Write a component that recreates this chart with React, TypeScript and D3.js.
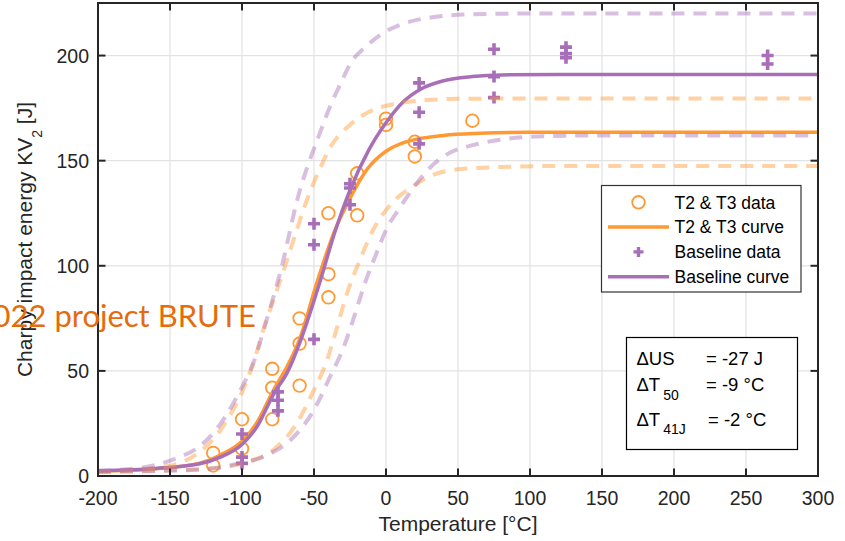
import React, { useRef, useEffect } from 'react'
import * as d3 from 'd3'

const xTicks = [-200, -150, -100, -50, 0, 50, 100, 150, 200, 250, 300]
const yTicks = [0, 50, 100, 150, 200]

// T2 & T3 measured points
const t23Temps = [-120, -120, -100, -100, -79, -79, -79, -60, -60, -60, -40, -40, -40, -20, -20, 0, 0, 20, 20, 60]
const t23Energy = [11, 5, 27, 13, 51, 42, 27, 75, 63, 43, 125, 96, 85, 144, 124, 170, 167, 159, 152, 169]

// Baseline measured points
const baseTemps = [-100, -100, -100, -75, -75, -75, -50, -50, -50, -25, -25, -25, 23, 23, 23, 75, 75, 75, 125, 125, 125, 265, 265]
const baseEnergy = [20, 9, 6, 40, 36, 31, 120, 110, 65, 139, 137, 129, 187, 173, 158, 203, 190, 180, 204, 201, 199, 200, 196]

// fitted curves as [T, KV]
const t23Curve = [[-200, 2.3], [-160, 3.5], [-130, 6], [-115, 10], [-100, 16.5], [-90, 25], [-78, 41], [-68, 53], [-60, 65], [-48, 92], [-36, 116], [-25, 132], [-13, 146], [0, 154.5], [10, 158], [20, 160], [40, 162], [65, 163], [100, 163.5], [300, 163.5]]
const t23Upper = [[-200, 2], [-161, 3.8], [-143, 6.2], [-129, 11.7], [-117, 20], [-110, 27], [-98, 43], [-92, 54], [-85, 70], [-78, 84], [-70, 100], [-62, 117], [-54, 133], [-46, 146], [-39, 156], [-25, 167], [-11, 173.5], [6, 177], [24, 178.6], [50, 179.4], [100, 179.6], [300, 179.6]]
const t23Lower = [[-200, 2], [-117, 3.8], [-99, 6.2], [-78, 12.5], [-62, 25], [-50, 41], [-41, 55], [-36, 66], [-27, 87], [-18, 103], [-9, 117], [3, 129], [19, 138], [30, 142.5], [47, 145.6], [80, 147], [120, 147.5], [300, 147.5]]

const baseCurve = [[-200, 2.5], [-160, 3.6], [-130, 5.7], [-115, 9], [-100, 15], [-90, 23], [-78, 39], [-68, 50], [-59, 65], [-46, 92], [-36, 115], [-25, 136], [-12, 155], [0, 168], [12, 178], [24, 184], [40, 188], [60, 190], [80, 190.8], [120, 191], [300, 191]]
const baseUpper = [[-200, 2.5], [-175, 3.5], [-164, 4.6], [-145, 8.6], [-131, 13.3], [-118, 22], [-101, 41], [-92, 54], [-83, 74], [-73, 98], [-61, 133], [-46, 163], [-39, 175.5], [-32, 186], [-24, 197], [-14, 204.3], [-2, 210.7], [13, 215.4], [30, 218], [60, 219.6], [100, 220], [300, 220]]
const baseLower = [[-200, 2], [-130, 3], [-106, 5.4], [-85, 9.3], [-66, 17.3], [-50, 31.5], [-39, 47], [-29, 62], [-22, 76], [-15, 91], [-6, 107], [0, 117], [10, 128], [20, 138], [31, 147], [45, 154], [61, 157.5], [80, 160], [105, 161.5], [150, 162], [300, 162]]

const legendLabels = ['T2 & T3 data', 'T2 & T3 curve', 'Baseline data', 'Baseline curve']

const ORANGE = '#FF9933'
const PURPLE = '#A86FB8'
const AXIS = '#262626'
const FONT = '"Liberation Sans", Arial, Helvetica, sans-serif'

const App = () => {
  const visEl = useRef<HTMLDivElement>(null)
  const width = 845
  const height = 541

  useEffect(() => {
    const root = d3.select(visEl.current)
    root.selectAll('*').remove()
    const svg = root.append('svg')
      .attr('width', width)
      .attr('height', height)
      .style('position', 'absolute')
      .style('left', 0)
      .style('top', 0)
      .style('font-family', FONT)

    const margin = { top: 3, right: 27, bottom: 65, left: 98 }
    const innerWidth = width - margin.left - margin.right
    const innerHeight = height - margin.top - margin.bottom

    const xScale = d3.scaleLinear().domain([-200, 300]).range([0, innerWidth])
    const yScale = d3.scaleLinear().domain([0, 225]).range([innerHeight, 0])

    svg.append('rect').attr('width', width).attr('height', height).attr('fill', '#fff')

    const g = svg.append('g').attr('transform', `translate(${margin.left},${margin.top})`)

    // grid
    g.selectAll('.gx').data(xTicks.slice(1, -1)).enter().append('line')
      .attr('x1', d => xScale(d)).attr('x2', d => xScale(d))
      .attr('y1', 0).attr('y2', innerHeight)
      .attr('stroke', '#e2e2e2').attr('stroke-width', 1.2)
    g.selectAll('.gy').data(yTicks.slice(1)).enter().append('line')
      .attr('y1', d => yScale(d)).attr('y2', d => yScale(d))
      .attr('x1', 0).attr('x2', innerWidth)
      .attr('stroke', '#e2e2e2').attr('stroke-width', 1.2)

    const line = d3.line<number[]>()
      .x(d => xScale(d[0]))
      .y(d => yScale(d[1]))
      .curve(d3.curveMonotoneX)

    const plot = g.append('g')

    // T2 & T3 data
    plot.selectAll('.c').data(t23Temps).enter().append('circle')
      .attr('cx', d => xScale(d))
      .attr('cy', (d, i) => yScale(t23Energy[i]))
      .attr('r', 6.3)
      .attr('fill', 'none')
      .attr('stroke', ORANGE)
      .attr('stroke-width', 1.8)

    plot.append('path').attr('d', line(t23Curve as any))
      .attr('fill', 'none').attr('stroke', ORANGE).attr('stroke-width', 3.5)

    const plus = 'M-6,0H6M0,-6V6'
    plot.selectAll('.p').data(baseTemps).enter().append('path')
      .attr('d', plus)
      .attr('transform', (d, i) => `translate(${xScale(d)},${yScale(baseEnergy[i])})`)
      .attr('stroke', PURPLE)
      .attr('stroke-width', 3.6)
      .attr('fill', 'none')

    plot.append('path').attr('d', line(baseCurve as any))
      .attr('fill', 'none').attr('stroke', PURPLE).attr('stroke-width', 3.5)

    const dashed = [
      { d: t23Upper, c: ORANGE },
      { d: t23Lower, c: ORANGE },
      { d: baseUpper, c: PURPLE },
      { d: baseLower, c: PURPLE },
    ]
    dashed.forEach(s => {
      plot.append('path').attr('d', line(s.d as any))
        .attr('fill', 'none')
        .attr('stroke', s.c)
        .attr('stroke-opacity', 0.45)
        .attr('stroke-width', 4)
        .attr('stroke-dasharray', '13,9')
    })

    // axes box and ticks (inside, all four sides)
    g.append('rect').attr('width', innerWidth).attr('height', innerHeight)
      .attr('fill', 'none').attr('stroke', AXIS).attr('stroke-width', 2)

    const tl = 7.5
    xTicks.slice(1, -1).forEach(t => {
      g.append('line').attr('x1', xScale(t)).attr('x2', xScale(t))
        .attr('y1', innerHeight).attr('y2', innerHeight - tl).attr('stroke', AXIS).attr('stroke-width', 2)
      g.append('line').attr('x1', xScale(t)).attr('x2', xScale(t))
        .attr('y1', 0).attr('y2', tl).attr('stroke', AXIS).attr('stroke-width', 2)
    })
    yTicks.slice(1).forEach(t => {
      g.append('line').attr('y1', yScale(t)).attr('y2', yScale(t))
        .attr('x1', 0).attr('x2', tl).attr('stroke', AXIS).attr('stroke-width', 2)
      g.append('line').attr('y1', yScale(t)).attr('y2', yScale(t))
        .attr('x1', innerWidth).attr('x2', innerWidth - tl).attr('stroke', AXIS).attr('stroke-width', 2)
    })

    g.selectAll('.xl').data(xTicks).enter().append('text')
      .attr('x', d => xScale(d))
      .attr('y', innerHeight + 29)
      .attr('text-anchor', 'middle')
      .attr('font-size', 19.5)
      .attr('fill', AXIS)
      .text(d => String(d))

    g.selectAll('.yl').data(yTicks).enter().append('text')
      .attr('x', -9)
      .attr('y', d => yScale(d) + 7)
      .attr('text-anchor', 'end')
      .attr('font-size', 19.5)
      .attr('fill', AXIS)
      .text(d => String(d))

    g.append('text')
      .attr('x', innerWidth / 2)
      .attr('y', innerHeight + 55)
      .attr('text-anchor', 'middle')
      .attr('font-size', 21)
      .attr('fill', AXIS)
      .text('Temperature [°C]')

    const yl = svg.append('text')
      .attr('transform', `translate(32,${margin.top + innerHeight / 2}) rotate(-90)`)
      .attr('text-anchor', 'middle')
      .attr('font-size', 21)
      .attr('fill', AXIS)
    yl.append('tspan').text('Charpy impact energy KV')
    yl.append('tspan').attr('font-size', 14).attr('dy', 10).text('2')
    yl.append('tspan').attr('dy', -10).text(' [J]')

    // legend
    const lg = svg.append('g')
    lg.append('rect').attr('x', 601.5).attr('y', 185.5).attr('width', 199.5).attr('height', 106.5)
      .attr('fill', '#fff').attr('stroke', '#333').attr('stroke-width', 1.2)
    const rowY = (i: number) => 202.3 + i * 24.8
    lg.append('circle').attr('cx', 638.5).attr('cy', rowY(0)).attr('r', 6.3)
      .attr('fill', 'none').attr('stroke', ORANGE).attr('stroke-width', 1.8)
    lg.append('line').attr('x1', 608).attr('x2', 669).attr('y1', rowY(1)).attr('y2', rowY(1))
      .attr('stroke', ORANGE).attr('stroke-width', 3.5)
    lg.append('path').attr('d', 'M-5,0H5M0,-5V5').attr('transform', `translate(638.5,${rowY(2)})`)
      .attr('stroke', PURPLE).attr('stroke-width', 3.4)
    lg.append('line').attr('x1', 608).attr('x2', 669).attr('y1', rowY(3)).attr('y2', rowY(3))
      .attr('stroke', PURPLE).attr('stroke-width', 3.5)
    legendLabels.forEach((t, i) => {
      lg.append('text').attr('x', 674.5).attr('y', rowY(i) + 6.2)
        .attr('font-size', 17.5).attr('fill', '#000').text(t)
    })

    // statistics box
    const sb = svg.append('g')
    sb.append('rect').attr('x', 626.5).attr('y', 337.5).attr('width', 171).attr('height', 112)
      .attr('fill', '#fff').attr('stroke', '#000').attr('stroke-width', 1.2)
    const r1 = sb.append('text').attr('x', 636.5).attr('y', 365).attr('font-size', 18.5)
    r1.text('ΔUS')
    sb.append('text').attr('x', 706).attr('y', 365).attr('font-size', 18.5).text('= -27 J')
    const r2 = sb.append('text').attr('x', 636.5).attr('y', 391).attr('font-size', 18.5)
    r2.append('tspan').text('ΔT')
    r2.append('tspan').attr('font-size', 14).attr('dx', 3).attr('dy', 9).text('50')
    sb.append('text').attr('x', 706).attr('y', 391).attr('font-size', 18.5).text('= -9 °C')
    const r3 = sb.append('text').attr('x', 636.5).attr('y', 426).attr('font-size', 18.5)
    r3.append('tspan').text('ΔT')
    r3.append('tspan').attr('font-size', 14).attr('dx', 3).attr('dy', 8).text('41J')
    sb.append('text').attr('x', 708).attr('y', 426).attr('font-size', 18.5).text('= -2 °C')

    // overlaid caption
    svg.append('text')
      .attr('x', 256).attr('y', 327)
      .attr('text-anchor', 'end')
      .attr('font-family', 'Lato, "Open Sans", sans-serif')
      .attr('font-size', 31)
      .attr('fill', '#E46C0A')
      .text('2022 project BRUTE')
  }, [])

  return (
    <div>
      <div ref={visEl}></div>
    </div>
  )
}

export default App
